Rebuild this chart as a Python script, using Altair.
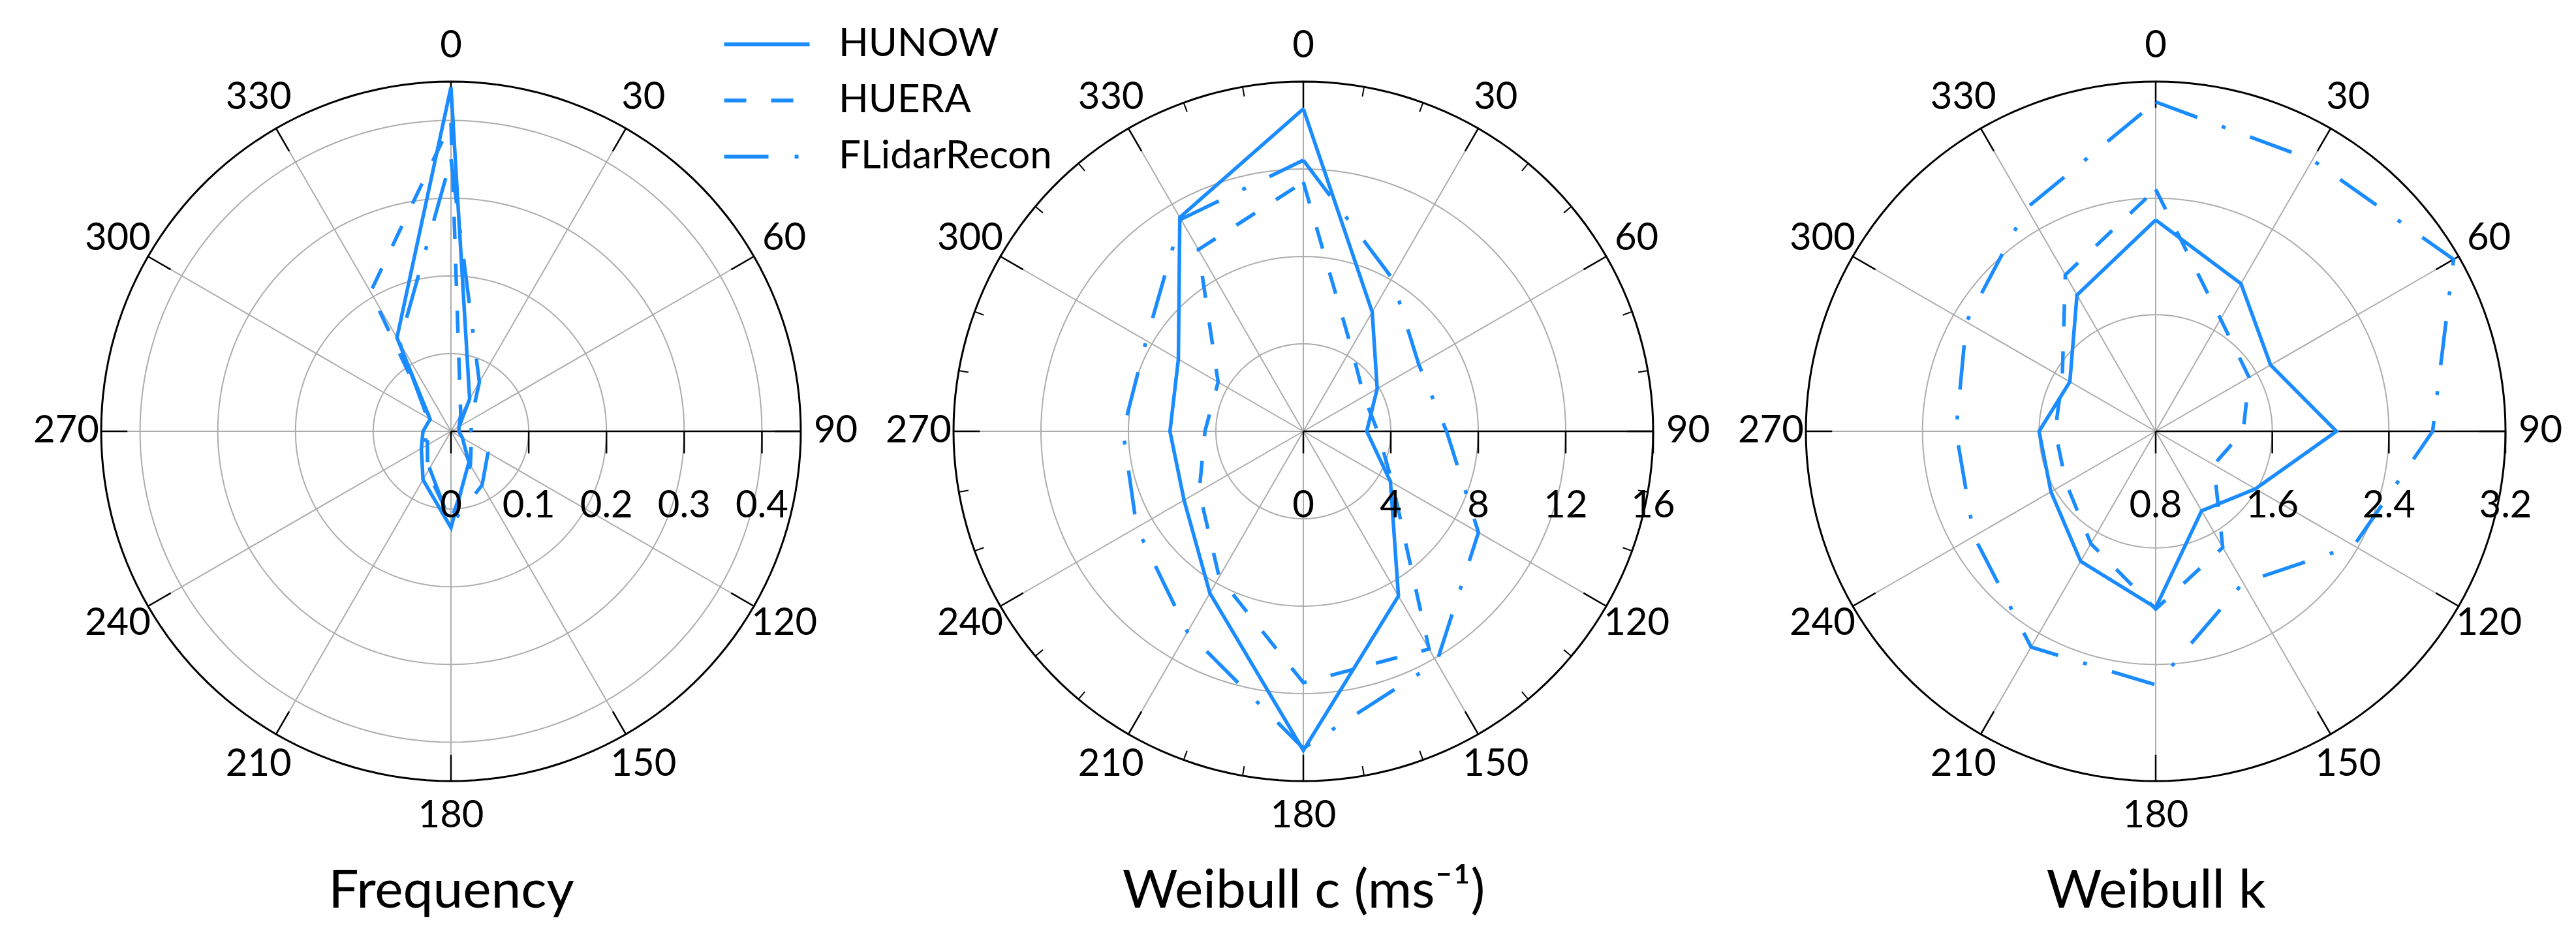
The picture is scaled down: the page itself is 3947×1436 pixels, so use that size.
import altair as alt
import numpy as np
import pandas as pd

# ---------------- data ----------------
directions = [0, 30, 60, 90, 120, 150, 180, 210, 240, 270, 300, 330]
direction_labels = ["0", "30", "60", "90", "120", "150", "180", "210", "240", "270", "300", "330"]
series_names = ["HUNOW", "HUERA", "FLidarRecon"]

freq_hunow = [0.443, 0.048, 0.012, 0.010, 0.017, 0.046, 0.124, 0.072, 0.044, 0.036, 0.031, 0.139]
freq_huera = [0.397, 0.025, 0.012, 0.012, 0.030, 0.050, 0.115, 0.060, 0.035, 0.030, 0.030, 0.207]
freq_flidar = [0.350, 0.073, 0.030, 0.026, 0.055, 0.080, 0.120, 0.055, 0.040, 0.030, 0.035, 0.132]

c_hunow = [14.75, 6.3, 3.9, 2.9, 4.6, 8.7, 14.6, 8.55, 6.3, 6.1, 6.6, 11.3]
c_huera = [11.4, 4.4, 3.2, 3.4, 4.7, 11.5, 11.5, 7.7, 5.5, 4.5, 4.5, 9.6]
c_flidar = [12.4, 8.1, 6.1, 6.55, 9.25, 12.2, 14.5, 10.6, 8.8, 8.25, 8.3, 11.2]

k_hunow = [2.25, 1.97, 1.71, 2.04, 1.59, 1.43, 2.01, 1.83, 1.63, 1.60, 1.48, 1.88]
k_huera = [2.46, 1.69, 1.54, 1.40, 1.26, 1.72, 2.02, 1.69, 1.51, 1.49, 1.54, 2.04]
k_flidar = [3.06, 2.95, 3.16, 2.70, 2.37, 2.00, 2.54, 2.51, 2.24, 2.17, 2.30, 2.57]

panel_titles = ["Frequency", "Weibull c (ms\u207b\u00b9)", "Weibull k"]
panel_rmin = [0.0, 0.0, 0.8]
panel_rmax = [0.45, 16.0, 3.2]
freq_ticks = [0.0, 0.1, 0.2, 0.3, 0.4]
freq_tick_labels = ["0", "0.1", "0.2", "0.3", "0.4"]
c_ticks = [0, 4, 8, 12, 16]
c_tick_labels = ["0", "4", "8", "12", "16"]
k_ticks = [0.8, 1.6, 2.4, 3.2]
k_tick_labels = ["0.8", "1.6", "2.4", "3.2"]

# ---------------- style ----------------
BLUE = "#1a8cff"
GRAY = "#adadad"
FONT = "Lato"
W = 1072
LAB = 58
DASHES = [[1, 0], [34, 38], [68, 40, 6, 40]]


def xenc(field, axis):
    return alt.X(field, type="quantitative",
                 scale=alt.Scale(domain=[-1, 1], nice=False, zero=False), axis=axis)


def yenc(field):
    return alt.Y(field, type="quantitative",
                 scale=alt.Scale(domain=[-1, 1], nice=False, zero=False), axis=None)


def circle_df(values):
    angs = np.arange(0, 361, 2)
    return pd.DataFrame([(v, a) for v in values for a in angs], columns=["v", "ang"])


def make_panel(title, rmin, rmax, ticks, tick_labels, values, minor):
    axis = alt.Axis(title=title, labels=False, ticks=False, domain=False, grid=False,
                    titleFont=FONT, titleFontSize=82, titleFontWeight="normal",
                    titleColor="black", titlePadding=128)
    U = f"(datum.v - {rmin}) / ({rmax} - {rmin})"
    xs = "datum.u * sin(datum.ang * PI / 180)"
    ys = "datum.u * cos(datum.ang * PI / 180)"

    inner = [t for t in ticks if rmin < t < rmax]
    rings = (alt.Chart(circle_df(inner))
             .transform_calculate(u=U, x=xs, y=ys)
             .mark_line(color=GRAY, strokeWidth=2)
             .encode(x=xenc("x", axis), y=yenc("y"), detail="v:N", order="ang:Q"))

    spoke_df = pd.DataFrame({"ang": [d for d in directions if d != 90]})
    spokes = (alt.Chart(spoke_df)
              .transform_calculate(x0="0", y0="0", x1="sin(datum.ang * PI / 180)",
                                   y1="cos(datum.ang * PI / 180)")
              .mark_rule(color=GRAY, strokeWidth=2)
              .encode(x=xenc("x0:Q", axis), y=yenc("y0:Q"), x2="x1:Q", y2="y1:Q"))

    outer = (alt.Chart(circle_df([rmax]))
             .transform_calculate(u=U, x=xs, y=ys)
             .mark_line(color="black", strokeWidth=3)
             .encode(x=xenc("x", axis), y=yenc("y"), order="ang:Q"))

    major_df = pd.DataFrame({"ang": directions})
    major = (alt.Chart(major_df)
             .transform_calculate(x0="0.925 * sin(datum.ang * PI / 180)",
                                  y0="0.925 * cos(datum.ang * PI / 180)",
                                  x1="sin(datum.ang * PI / 180)",
                                  y1="cos(datum.ang * PI / 180)")
             .mark_rule(color="black", strokeWidth=2.5)
             .encode(x=xenc("x0:Q", axis), y=yenc("y0:Q"), x2="x1:Q", y2="y1:Q"))

    layers = [rings, spokes, outer, major]

    if minor:
        minor_df = pd.DataFrame({"ang": [a for a in range(0, 360, 10) if a % 30 != 0]})
        layers.append(alt.Chart(minor_df)
                      .transform_calculate(x0="0.972 * sin(datum.ang * PI / 180)",
                                           y0="0.972 * cos(datum.ang * PI / 180)",
                                           x1="sin(datum.ang * PI / 180)",
                                           y1="cos(datum.ang * PI / 180)")
                      .mark_rule(color="black", strokeWidth=2)
                      .encode(x=xenc("x0:Q", axis), y=yenc("y0:Q"), x2="x1:Q", y2="y1:Q"))

    tick_df = pd.DataFrame({"v": ticks, "label": tick_labels})
    axis_line = (alt.Chart(tick_df)
                 .transform_aggregate(vmin="min(v)")
                 .transform_calculate(x0="0", x1="1", y0="0")
                 .mark_rule(color="black", strokeWidth=2.5)
                 .encode(x=xenc("x0:Q", axis), x2="x1:Q", y=yenc("y0:Q")))
    tick_marks = (alt.Chart(tick_df)
                  .transform_calculate(u=U, y0="0", y1="-0.063")
                  .mark_rule(color="black", strokeWidth=2.5)
                  .encode(x=xenc("u:Q", axis), y=yenc("y0:Q"), y2="y1:Q"))
    tick_text = (alt.Chart(tick_df)
                 .transform_calculate(u=U, y0="-0.215")
                 .mark_text(font=FONT, fontSize=LAB, color="black", align="center",
                            baseline="middle")
                 .encode(x=xenc("u:Q", axis), y=yenc("y0:Q"), text="label:N"))

    ang_df = pd.DataFrame({"ang": directions, "label": direction_labels})
    ang_text = (alt.Chart(ang_df)
                .transform_calculate(x="1.1 * sin(datum.ang * PI / 180)",
                                     y="1.1 * cos(datum.ang * PI / 180)")
                .mark_text(font=FONT, fontSize=LAB, color="black", align="center",
                           baseline="middle")
                .encode(x=xenc("x:Q", axis), y=yenc("y:Q"), text="label:N"))

    layers += [axis_line, tick_marks]

    rows = []
    for s, vals in zip(series_names, values):
        for j, (d, v) in enumerate(zip(directions, vals)):
            rows.append((s, d, v, j))
        rows.append((s, 360, vals[0], len(vals)))
    sdf = pd.DataFrame(rows, columns=["series", "ang", "v", "ord"])
    lines = (alt.Chart(sdf)
             .transform_calculate(u=U, x=xs, y=ys)
             .mark_line(color=BLUE, strokeWidth=5.5)
             .encode(x=xenc("x:Q", axis), y=yenc("y:Q"),
                     strokeDash=alt.StrokeDash(
                         "series:N",
                         scale=alt.Scale(domain=series_names, range=DASHES),
                         legend=alt.Legend(title=None, orient="none", legendX=984, legendY=-93,
                                           symbolType="M-2,0H2", symbolSize=4290,
                                           symbolStrokeWidth=6, symbolStrokeColor=BLUE,
                                           symbolFillColor="transparent",
                                           labelFont=FONT, labelFontSize=60, labelColor="black",
                                           labelOffset=74, labelLimit=0, rowPadding=20,
                                           padding=0)),
                     detail="series:N", order="ord:Q"))
    layers += [lines, tick_text, ang_text]
    return alt.layer(*layers).properties(width=W, height=W)


p1 = make_panel(panel_titles[0], panel_rmin[0], panel_rmax[0], freq_ticks, freq_tick_labels,
                [freq_hunow, freq_huera, freq_flidar], False)
p2 = make_panel(panel_titles[1], panel_rmin[1], panel_rmax[1], c_ticks, c_tick_labels,
                [c_hunow, c_huera, c_flidar], True)
p3 = make_panel(panel_titles[2], panel_rmin[2], panel_rmax[2], k_ticks, k_tick_labels,
                [k_hunow, k_huera, k_flidar], False)

chart = (alt.hconcat(p1, p2, p3, spacing=234, bounds="flush")
         .properties(padding={"left": 42, "top": 24, "right": 10, "bottom": 10},
                     background="white")
         .configure_view(stroke=None))

chart.save("out.html", embed_options={"renderer": "svg", "actions": False})
